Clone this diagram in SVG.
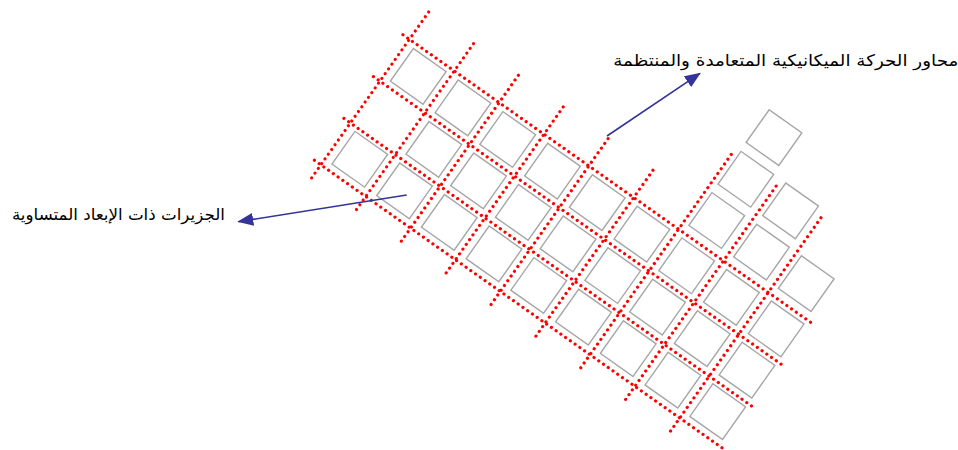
<svg xmlns="http://www.w3.org/2000/svg" width="958" height="450" viewBox="0 0 958 450">
<style>
.sq{fill:none;stroke:#a6a6a6;stroke-width:1.4}
.ax{stroke:#ff0000;stroke-width:3.2;stroke-linecap:round;stroke-dasharray:0 5.8;fill:none}
.ar{stroke:#333399;stroke-width:1.6;fill:none;marker-end:url(#ah)}
.lb{font-family:'DejaVu Sans','Noto Sans',sans-serif;font-size:16px;fill:#000}
</style>
<defs>
<marker id="ah" markerUnits="userSpaceOnUse" markerWidth="16" markerHeight="13" viewBox="0 0 16 13" refX="15" refY="6.5" orient="auto"><path d="M0,0L16,6.5L0,13z" fill="#333399"/></marker>
</defs>
<rect width="958" height="450" fill="#ffffff"/>
<g transform="translate(500.3,291.4) rotate(35.2)">
<g id="islands">
<rect id="sq-r0-c-4" class="sq" x="-211" y="-47" width="40" height="40"/>
<rect id="sq-r0-c-3" class="sq" x="-156.25" y="-47" width="40" height="40"/>
<rect id="sq-r0-c-2" class="sq" x="-101.5" y="-47" width="40" height="40"/>
<rect id="sq-r0-c-1" class="sq" x="-46.75" y="-47" width="40" height="40"/>
<rect id="sq-r0-c0" class="sq" x="8" y="-47" width="40" height="40"/>
<rect id="sq-r0-c1" class="sq" x="62.75" y="-47" width="40" height="40"/>
<rect id="sq-r0-c2" class="sq" x="117.5" y="-47" width="40" height="40"/>
<rect id="sq-r0-c3" class="sq" x="172.25" y="-47" width="40" height="40"/>
<rect id="sq-r0-c4" class="sq" x="227" y="-47" width="40" height="40"/>
<rect id="sq-r1-c-3" class="sq" x="-156.25" y="-97.8" width="40" height="40"/>
<rect id="sq-r1-c-2" class="sq" x="-101.5" y="-97.8" width="40" height="40"/>
<rect id="sq-r1-c-1" class="sq" x="-46.75" y="-97.8" width="40" height="40"/>
<rect id="sq-r1-c0" class="sq" x="8" y="-97.8" width="40" height="40"/>
<rect id="sq-r1-c1" class="sq" x="62.75" y="-97.8" width="40" height="40"/>
<rect id="sq-r1-c2" class="sq" x="117.5" y="-97.8" width="40" height="40"/>
<rect id="sq-r1-c3" class="sq" x="172.25" y="-97.8" width="40" height="40"/>
<rect id="sq-r1-c4" class="sq" x="227" y="-97.8" width="40" height="40"/>
<rect id="sq-r2-c-4" class="sq" x="-211" y="-148.4" width="40" height="40"/>
<rect id="sq-r2-c-3" class="sq" x="-156.25" y="-148.4" width="40" height="40"/>
<rect id="sq-r2-c-2" class="sq" x="-101.5" y="-148.4" width="40" height="40"/>
<rect id="sq-r2-c-1" class="sq" x="-46.75" y="-148.4" width="40" height="40"/>
<rect id="sq-r2-c0" class="sq" x="8" y="-148.4" width="40" height="40"/>
<rect id="sq-r2-c1" class="sq" x="62.75" y="-148.4" width="40" height="40"/>
<rect id="sq-r2-c2" class="sq" x="117.5" y="-148.4" width="40" height="40"/>
<rect id="sq-r2-c3" class="sq" x="172.25" y="-148.4" width="40" height="40"/>
<rect id="sq-r2-c4" class="sq" x="227" y="-148.4" width="40" height="40"/>
<rect id="sq-r3-c2" class="sq" x="116" y="-202.7" width="40" height="40"/>
<rect id="sq-r3-c3" class="sq" x="170.75" y="-202.7" width="40" height="40"/>
<rect id="sq-r3-c4" class="sq" x="225.5" y="-202.7" width="40" height="40"/>
<rect id="sq-r4-c2" class="sq" x="116" y="-253.2" width="40" height="40"/>
<rect id="sq-r4-c3" class="sq" x="170.75" y="-253.2" width="40" height="40"/>
<rect id="sq-r5-c2" class="sq" x="115" y="-303.4" width="40" height="40"/>
</g>
<g id="axes">
<line class="ax" x1="-227.5" y1="0" x2="276" y2="0"/>
<line class="ax" x1="-227.5" y1="-51.2" x2="276" y2="-51.2"/>
<line class="ax" x1="-227.5" y1="-102.4" x2="276" y2="-102.4"/>
<line class="ax" x1="-227.5" y1="-153.6" x2="276" y2="-153.6"/>
<line class="ax" x1="-219.6" y1="16" x2="-219.6" y2="-189.5"/>
<line class="ax" x1="-164.7" y1="16" x2="-164.7" y2="-189.5"/>
<line class="ax" x1="-109.8" y1="16" x2="-109.8" y2="-189.5"/>
<line class="ax" x1="-54.9" y1="16" x2="-54.9" y2="-189.5"/>
<line class="ax" x1="0" y1="16" x2="0" y2="-189.5"/>
<line class="ax" x1="54.9" y1="16" x2="54.9" y2="-189.5"/>
<line class="ax" x1="109.8" y1="16" x2="109.8" y2="-250.5"/>
<line class="ax" x1="164.7" y1="16" x2="164.7" y2="-250.5"/>
<line class="ax" x1="219.6" y1="16" x2="219.6" y2="-250.5"/>
</g>
</g>
<g id="connectors">
<line class="ar" x1="607" y1="136" x2="700" y2="73.3"/>
<line class="ar" x1="406.7" y1="195" x2="238.3" y2="221.7"/>
</g>
<g id="label-axes">
<text class="lb" x="785.8" y="65.5" font-size="17.5" text-anchor="middle" textLength="345" lengthAdjust="spacingAndGlyphs">محاور الحركة الميكانيكية المتعامدة والمنتظمة</text>
</g>
<g id="label-islands">
<text class="lb" x="118.4" y="219.5" font-size="16.5" text-anchor="middle" textLength="213" lengthAdjust="spacingAndGlyphs">الجزيرات ذات الإبعاد المتساوية</text>
</g>
</svg>
